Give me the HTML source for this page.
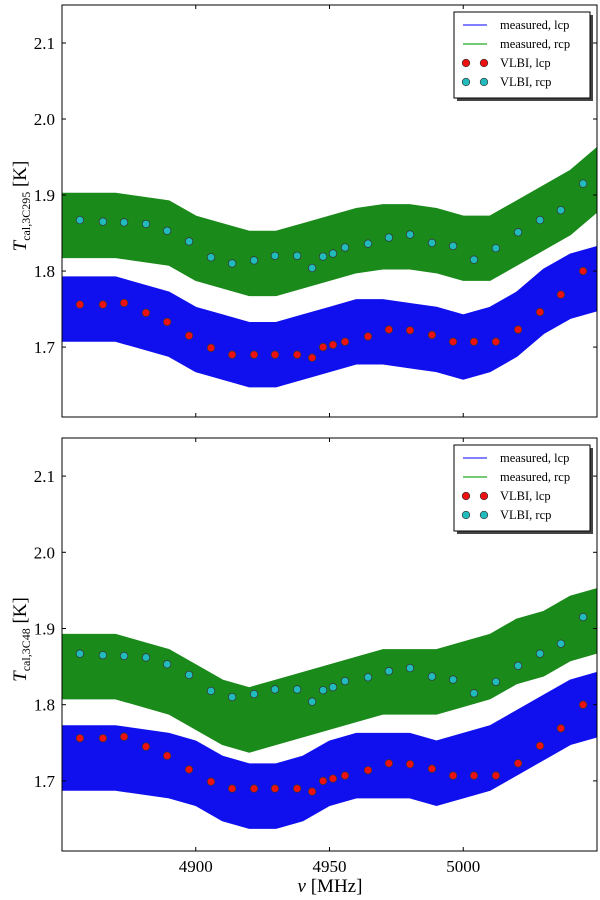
<!DOCTYPE html>
<html><head><meta charset="utf-8"><style>
body{margin:0;background:#fff}
svg{display:block;font-family:"Liberation Serif",serif}
</style></head><body>
<svg id="chart" width="600" height="900" xmlns="http://www.w3.org/2000/svg"></svg>
<script>
const freqTicks=[4900,4950,5000];
const yTicks=[1.7,1.8,1.9,2.0,2.1];
const vlbiFreq=[4856.7,4865.3,4873.2,4881.4,4889.3,4897.5,4905.7,4913.6,4921.8,4929.6,4937.9,4943.5,4947.6,4951.3,4955.8,4964.4,4972.2,4980.1,4988.3,4996.2,5004,5012.2,5020.5,5028.7,5036.5,5044.8];
const vlbiLcp=[1.756,1.756,1.758,1.745,1.733,1.715,1.699,1.69,1.69,1.69,1.69,1.686,1.70,1.703,1.707,1.714,1.723,1.722,1.716,1.707,1.707,1.707,1.723,1.746,1.769,1.80];
const vlbiRcp=[1.867,1.865,1.864,1.862,1.853,1.839,1.818,1.81,1.814,1.82,1.82,1.804,1.819,1.823,1.831,1.836,1.844,1.848,1.837,1.833,1.815,1.83,1.851,1.867,1.88,1.915];
const trendFreq=[4850,4870,4890,4900,4910,4920,4930,4940,4950,4960,4970,4980,4990,5000,5010,5020,5030,5040,5050];
const topLcp=[1.75,1.75,1.73,1.71,1.70,1.69,1.69,1.70,1.71,1.72,1.72,1.715,1.71,1.70,1.71,1.73,1.76,1.78,1.79];
const topRcp=[1.86,1.86,1.85,1.83,1.82,1.81,1.81,1.82,1.83,1.84,1.845,1.845,1.84,1.83,1.83,1.85,1.87,1.89,1.92];
const botLcp=[1.73,1.73,1.72,1.71,1.69,1.68,1.68,1.69,1.71,1.72,1.72,1.72,1.71,1.72,1.73,1.75,1.77,1.79,1.80];
const botRcp=[1.85,1.85,1.83,1.81,1.79,1.78,1.79,1.80,1.81,1.82,1.83,1.83,1.83,1.84,1.85,1.87,1.88,1.90,1.91];
const NS="http://www.w3.org/2000/svg";
const svg=document.getElementById('chart');
function mk(tag,attrs,parent){const e=document.createElementNS(NS,tag);for(const k in attrs)e.setAttribute(k,attrs[k]);(parent||svg).appendChild(e);return e;}
const X0=62,X1=597;
function xs(f){return X0+(f-4850)/(5050-4850)*(X1-X0);}
function panel(top,bot,lcp,rcp,name,sub,showX){
  const g=mk('g',{});
  
  
  const ys=v=>bot-(v-1.608)/(2.150-1.608)*(bot-top);
  const clipId='c'+name;
  const cp=mk('clipPath',{id:clipId},g);mk('rect',{x:X0,y:top,width:X1-X0,height:bot-top},cp);
  const dg=mk('g',{'clip-path':'url(#'+clipId+')'},g);
  function band(arr,col,nm){
    let up=[],lo=[];
    trendFreq.forEach((f,i)=>{up.push(xs(f)+','+ys(arr[i]+0.042));lo.unshift(xs(f)+','+ys(arr[i]-0.042));});
    const p=mk('polygon',{points:up.concat(lo).join(' '),fill:col,stroke:col,'stroke-width':1.5},dg);
    
    
  }
  band(rcp,'#1a8a1a','measured-rcp-series');
  band(lcp,'#1010ee','measured-lcp-series');
  function dots(vals,col,nm){
    vlbiFreq.forEach((f,i)=>{const c=mk('circle',{cx:xs(f),cy:ys(vals[i]),r:3.8,fill:col,stroke:'#333','stroke-width':0.7},dg);
      
      });
  }
  dots(vlbiLcp,'#ee1111','vlbi-lcp-point');
  dots(vlbiRcp,'#22bbbb','vlbi-rcp-point');
  mk('rect',{x:X0,y:top,width:X1-X0,height:bot-top,fill:'none',stroke:'#000','stroke-width':1},g);
  yTicks.forEach(v=>{const y=ys(v);
    mk('line',{x1:X0,y1:y,x2:X0+4,y2:y,stroke:'#000'},g);mk('line',{x1:X1,y1:y,x2:X1-4,y2:y,stroke:'#000'},g);
    const t=mk('text',{x:55,y:y+6,'text-anchor':'end','font-size':17},g);t.textContent=v.toFixed(1);
    
    });
  freqTicks.forEach(f=>{const x=xs(f);
    mk('line',{x1:x,y1:bot,x2:x,y2:bot-4,stroke:'#000'},g);mk('line',{x1:x,y1:top,x2:x,y2:top+4,stroke:'#000'},g);
    if(showX){const t=mk('text',{x:x,y:bot+21,'text-anchor':'middle','font-size':17},g);t.textContent=f;
      
      }});
  const cy=(top+bot)/2-5;
  const yl=mk('text',{transform:'translate(26,'+cy+') rotate(-90)','text-anchor':'middle','font-size':19},g);
  
  
  yl.innerHTML='<tspan font-style="italic">T</tspan><tspan font-size="12" dy="4">cal,'+sub+'</tspan><tspan dy="-4"> [K]</tspan>';
  const lg=mk('g',{},g);
  
  
  const lx=454,ly=top+7;
  mk('rect',{x:lx+3,y:ly+3,width:136,height:86,fill:'#444'},lg);
  mk('rect',{x:lx,y:ly,width:136,height:86,fill:'#fff',stroke:'#000','stroke-width':1},lg);
  const items=[['line','#3333ff','measured, lcp'],['line','#22aa22','measured, rcp'],['dot','#ee1111','VLBI, lcp'],['dot','#22bbbb','VLBI, rcp']];
  items.forEach((it,i)=>{const yy=ly+13+i*19;
    const e=mk('g',{},lg);
    
    
    if(it[0]=='line')mk('line',{x1:lx+9,y1:yy,x2:lx+33,y2:yy,stroke:it[1],'stroke-width':1.2},e);
    else{mk('circle',{cx:lx+12,cy:yy,r:3.8,fill:it[1],stroke:'#333','stroke-width':0.7},e);mk('circle',{cx:lx+30,cy:yy,r:3.8,fill:it[1],stroke:'#333','stroke-width':0.7},e);}
    const t=mk('text',{x:lx+46,y:yy+4,'font-size':12.5},e);t.textContent=it[2];});
}
panel(5,417,topLcp,topRcp,'panel-3c295','3C295',false);
panel(438,851,botLcp,botRcp,'panel-3c48','3C48',true);
const xl=mk('text',{x:330,y:892,'text-anchor':'middle','font-size':19});


xl.innerHTML='<tspan font-style="italic">ν</tspan> [MHz]';
</script>
</body></html>
